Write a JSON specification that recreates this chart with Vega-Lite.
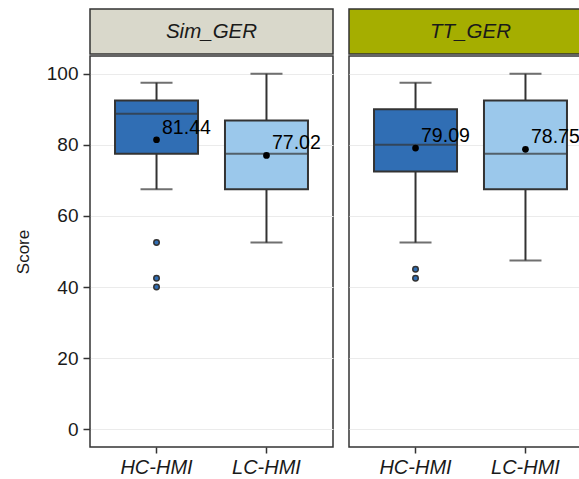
{
  "$schema": "https://vega.github.io/schema/vega-lite/v6.json",
  "autosize": {"type": "pad"},
  "padding": {"left": 13, "top": 8, "right": 0, "bottom": 0},
  "background": "white",
  "datasets": {
    "boxes": [
      {"panel": "Sim_GER", "group": "HC-HMI", "lower": 67.5, "q1": 77.5, "median": 88.75, "q3": 92.5, "upper": 97.5, "mean": 81.44},
      {"panel": "Sim_GER", "group": "LC-HMI", "lower": 52.5, "q1": 67.5, "median": 77.5, "q3": 86.875, "upper": 100, "mean": 77.02},
      {"panel": "TT_GER", "group": "HC-HMI", "lower": 52.5, "q1": 72.5, "median": 80, "q3": 90, "upper": 97.5, "mean": 79.09},
      {"panel": "TT_GER", "group": "LC-HMI", "lower": 47.5, "q1": 67.5, "median": 77.5, "q3": 92.5, "upper": 100, "mean": 78.75}
    ],
    "outliers": [
      {"panel": "Sim_GER", "group": "HC-HMI", "value": 52.5},
      {"panel": "Sim_GER", "group": "HC-HMI", "value": 42.5},
      {"panel": "Sim_GER", "group": "HC-HMI", "value": 40},
      {"panel": "TT_GER", "group": "HC-HMI", "value": 45},
      {"panel": "TT_GER", "group": "HC-HMI", "value": 42.5}
    ]
  },
  "hconcat": [
    {
      "spacing": 0,
      "vconcat": [
        {
          "width": 243, "height": 45,
          "view": {"fill": "#D9D8CB", "stroke": "#333333", "strokeWidth": 1.5},
          "data": {"values": [{"label": "Sim_GER"}]},
          "mark": {"type": "text", "fontStyle": "italic", "fontSize": 20.5, "color": "#1A1A1A"},
          "encoding": {"text": {"field": "label"}}
        },
        {
          "width": 243, "height": 391,
          "encoding": {
            "x": {"field": "group", "type": "nominal", "scale": {"type": "band", "domain": ["HC-HMI", "LC-HMI"], "paddingInner": 0, "paddingOuter": 0.105},
                  "axis": {"title": null, "labelAngle": 0, "labelFontStyle": "italic", "labelFontSize": 20, "labelColor": "#1A1A1A", "domain": false, "ticks": true, "tickColor": "#333333", "tickSize": 6, "tickWidth": 1.5, "labelPadding": 4, "grid": false}}
          },
          "layer": [
            {
              "data": {"name": "boxes"},
              "transform": [{"filter": "datum.panel === 'Sim_GER'"}],
              "mark": {"type": "rule", "color": "#333333", "strokeWidth": 2},
              "encoding": {
                "y": {"field": "lower", "type": "quantitative", "scale": {"domain": [-5, 105], "nice": false, "zero": false},
                      "axis": {"title": "Score", "titleFontSize": 17, "titleFontWeight": "normal", "titleColor": "#1A1A1A", "titlePadding": 14, "values": [0, 20, 40, 60, 80, 100], "labelFontSize": 19, "labelColor": "#1A1A1A", "domain": false, "tickColor": "#333333", "tickSize": 7, "tickWidth": 1.5, "labelPadding": 5, "grid": true, "gridColor": "#EBEBEB", "gridWidth": 1}},
                "y2": {"field": "upper"}
              }
            },
            {
              "data": {"name": "boxes"},
              "transform": [{"filter": "datum.panel === 'Sim_GER'"}],
              "mark": {"type": "tick", "color": "#333333", "thickness": 2, "size": 32, "orient": "horizontal"},
              "encoding": {"y": {"field": "upper", "type": "quantitative"}}
            },
            {
              "data": {"name": "boxes"},
              "transform": [{"filter": "datum.panel === 'Sim_GER'"}],
              "mark": {"type": "tick", "color": "#333333", "thickness": 2, "size": 32, "orient": "horizontal"},
              "encoding": {"y": {"field": "lower", "type": "quantitative"}}
            },
            {
              "data": {"name": "boxes"},
              "transform": [{"filter": "datum.panel === 'Sim_GER'"}],
              "mark": {"type": "bar", "stroke": "#333333", "strokeWidth": 2, "width": 83, "opacity": 1},
              "encoding": {
                "y": {"field": "q1", "type": "quantitative"},
                "y2": {"field": "q3"},
                "fill": {"field": "group", "type": "nominal", "scale": {"domain": ["HC-HMI", "LC-HMI"], "range": ["#306EB4", "#9BC8EB"]}, "legend": null}
              }
            },
            {
              "data": {"name": "boxes"},
              "transform": [{"filter": "datum.panel === 'Sim_GER'"}],
              "mark": {"type": "tick", "color": "#333333", "thickness": 2, "size": 83, "orient": "horizontal"},
              "encoding": {"y": {"field": "median", "type": "quantitative"}}
            },
            {
              "data": {"name": "outliers"},
              "transform": [{"filter": "datum.panel === 'Sim_GER'"}],
              "mark": {"type": "point", "filled": true, "stroke": "#333333", "strokeWidth": 1.5, "size": 30, "opacity": 1},
              "encoding": {
                "y": {"field": "value", "type": "quantitative"},
                "fill": {"field": "group", "type": "nominal", "legend": null}
              }
            },
            {
              "data": {"name": "boxes"},
              "transform": [{"filter": "datum.panel === 'Sim_GER'"}],
              "mark": {"type": "point", "filled": true, "color": "black", "size": 45, "opacity": 1},
              "encoding": {"y": {"field": "mean", "type": "quantitative"}}
            },
            {
              "data": {"name": "boxes"},
              "transform": [{"filter": "datum.panel === 'Sim_GER'"}],
              "mark": {"type": "text", "align": "left", "baseline": "alphabetic", "dx": 5.5, "dy": -6, "fontSize": 19.5, "color": "black"},
              "encoding": {"y": {"field": "mean", "type": "quantitative"}, "text": {"field": "mean", "type": "quantitative", "format": ".2f"}}
            }
          ]
        }
      ]
    },
    {
      "spacing": 0,
      "vconcat": [
        {
          "width": 243, "height": 45,
          "view": {"fill": "#A5AE00", "stroke": "#333333", "strokeWidth": 1.5},
          "data": {"values": [{"label": "TT_GER"}]},
          "mark": {"type": "text", "fontStyle": "italic", "fontSize": 20.5, "color": "#1A1A1A"},
          "encoding": {"text": {"field": "label"}}
        },
        {
          "width": 243, "height": 391,
          "encoding": {
            "x": {"field": "group", "type": "nominal", "scale": {"type": "band", "domain": ["HC-HMI", "LC-HMI"], "paddingInner": 0, "paddingOuter": 0.105},
                  "axis": {"title": null, "labelAngle": 0, "labelFontStyle": "italic", "labelFontSize": 20, "labelColor": "#1A1A1A", "domain": false, "ticks": true, "tickColor": "#333333", "tickSize": 6, "tickWidth": 1.5, "labelPadding": 4, "grid": false}}
          },
          "layer": [
            {
              "data": {"name": "boxes"},
              "transform": [{"filter": "datum.panel === 'TT_GER'"}],
              "mark": {"type": "rule", "color": "#333333", "strokeWidth": 2},
              "encoding": {
                "y": {"field": "lower", "type": "quantitative", "scale": {"domain": [-5, 105], "nice": false, "zero": false},
                      "axis": {"title": null, "values": [0, 20, 40, 60, 80, 100], "labels": false, "ticks": false, "domain": false, "grid": true, "gridColor": "#EBEBEB", "gridWidth": 1}},
                "y2": {"field": "upper"}
              }
            },
            {
              "data": {"name": "boxes"},
              "transform": [{"filter": "datum.panel === 'TT_GER'"}],
              "mark": {"type": "tick", "color": "#333333", "thickness": 2, "size": 32, "orient": "horizontal"},
              "encoding": {"y": {"field": "upper", "type": "quantitative"}}
            },
            {
              "data": {"name": "boxes"},
              "transform": [{"filter": "datum.panel === 'TT_GER'"}],
              "mark": {"type": "tick", "color": "#333333", "thickness": 2, "size": 32, "orient": "horizontal"},
              "encoding": {"y": {"field": "lower", "type": "quantitative"}}
            },
            {
              "data": {"name": "boxes"},
              "transform": [{"filter": "datum.panel === 'TT_GER'"}],
              "mark": {"type": "bar", "stroke": "#333333", "strokeWidth": 2, "width": 83, "opacity": 1},
              "encoding": {
                "y": {"field": "q1", "type": "quantitative"},
                "y2": {"field": "q3"},
                "fill": {"field": "group", "type": "nominal", "scale": {"domain": ["HC-HMI", "LC-HMI"], "range": ["#306EB4", "#9BC8EB"]}, "legend": null}
              }
            },
            {
              "data": {"name": "boxes"},
              "transform": [{"filter": "datum.panel === 'TT_GER'"}],
              "mark": {"type": "tick", "color": "#333333", "thickness": 2, "size": 83, "orient": "horizontal"},
              "encoding": {"y": {"field": "median", "type": "quantitative"}}
            },
            {
              "data": {"name": "outliers"},
              "transform": [{"filter": "datum.panel === 'TT_GER'"}],
              "mark": {"type": "point", "filled": true, "stroke": "#333333", "strokeWidth": 1.5, "size": 30, "opacity": 1},
              "encoding": {
                "y": {"field": "value", "type": "quantitative"},
                "fill": {"field": "group", "type": "nominal", "legend": null}
              }
            },
            {
              "data": {"name": "boxes"},
              "transform": [{"filter": "datum.panel === 'TT_GER'"}],
              "mark": {"type": "point", "filled": true, "color": "black", "size": 45, "opacity": 1},
              "encoding": {"y": {"field": "mean", "type": "quantitative"}}
            },
            {
              "data": {"name": "boxes"},
              "transform": [{"filter": "datum.panel === 'TT_GER'"}],
              "mark": {"type": "text", "align": "left", "baseline": "alphabetic", "dx": 5.5, "dy": -6, "fontSize": 19.5, "color": "black"},
              "encoding": {"y": {"field": "mean", "type": "quantitative"}, "text": {"field": "mean", "type": "quantitative", "format": ".2f"}}
            }
          ]
        }
      ]
    }
  ],
  "spacing": 14,
  "config": {
    "font": "Liberation Sans",
    "view": {"stroke": "#333333", "strokeWidth": 1.5},
    "concat": {"spacing": 14}
  }
}
